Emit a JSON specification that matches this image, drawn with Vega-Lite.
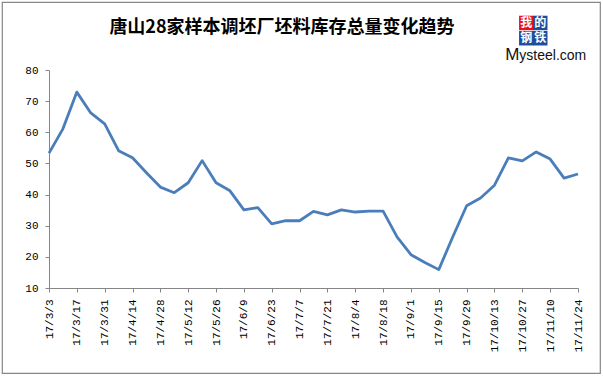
{
  "$schema": "https://vega.github.io/schema/vega-lite/v6.json",
  "width": 598,
  "height": 371,
  "autosize": {"type": "none"},
  "padding": {"left": 2, "top": 2, "right": 3, "bottom": 3},
  "background": "white",
  "config": {
    "view": {"stroke": "#878787", "strokeWidth": 1.2},
    "axis": {"grid": false, "domainColor": "#868686", "tickColor": "#868686", "labelColor": "#000000", "labelFont": "Liberation Mono", "labelFontSize": 11, "tickSize": 4}
  },
  "title": {
    "text": "唐山28家样本调坯厂坯料库存总量变化趋势",
    "font": "Noto Sans CJK SC",
    "fontSize": 18,
    "fontWeight": "bold",
    "color": "#000000",
    "anchor": "middle",
    "frame": "group",
    "baseline": "middle",
    "offset": -44,
    "dx": -19
  },
  "layer": [
    {
      "data": {"values": [
        {"date": "17/3/3", "stock": 53.3},
        {"date": "17/3/10", "stock": 61.1},
        {"date": "17/3/17", "stock": 72.9},
        {"date": "17/3/24", "stock": 66.2},
        {"date": "17/3/31", "stock": 62.7},
        {"date": "17/4/7", "stock": 54.1},
        {"date": "17/4/14", "stock": 51.8},
        {"date": "17/4/21", "stock": 47.0},
        {"date": "17/4/28", "stock": 42.4},
        {"date": "17/5/5", "stock": 40.6},
        {"date": "17/5/12", "stock": 43.8},
        {"date": "17/5/19", "stock": 50.9},
        {"date": "17/5/26", "stock": 43.8},
        {"date": "17/6/2", "stock": 41.2},
        {"date": "17/6/9", "stock": 35.1},
        {"date": "17/6/16", "stock": 35.8},
        {"date": "17/6/23", "stock": 30.6},
        {"date": "17/6/30", "stock": 31.6},
        {"date": "17/7/7", "stock": 31.6},
        {"date": "17/7/14", "stock": 34.6},
        {"date": "17/7/21", "stock": 33.5},
        {"date": "17/7/28", "stock": 35.1},
        {"date": "17/8/4", "stock": 34.4},
        {"date": "17/8/11", "stock": 34.7},
        {"date": "17/8/18", "stock": 34.7},
        {"date": "17/8/25", "stock": 26.4},
        {"date": "17/9/1", "stock": 20.7},
        {"date": "17/9/8", "stock": 18.2},
        {"date": "17/9/15", "stock": 15.9},
        {"date": "17/9/22", "stock": 26.4},
        {"date": "17/9/29", "stock": 36.4},
        {"date": "17/10/6", "stock": 38.9},
        {"date": "17/10/13", "stock": 43.0},
        {"date": "17/10/20", "stock": 51.8},
        {"date": "17/10/27", "stock": 50.8},
        {"date": "17/11/3", "stock": 53.7},
        {"date": "17/11/10", "stock": 51.4},
        {"date": "17/11/17", "stock": 45.3},
        {"date": "17/11/24", "stock": 46.6}
      ]},
      "mark": {"type": "line", "color": "#4A7EBB", "strokeWidth": 2.8, "strokeJoin": "round"},
      "encoding": {
        "x": {
          "field": "date", "type": "ordinal",
          "scale": {"type": "point", "padding": 0, "range": [47, 576],
            "domain": ["17/3/3","17/3/10","17/3/17","17/3/24","17/3/31","17/4/7","17/4/14","17/4/21","17/4/28","17/5/5","17/5/12","17/5/19","17/5/26","17/6/2","17/6/9","17/6/16","17/6/23","17/6/30","17/7/7","17/7/14","17/7/21","17/7/28","17/8/4","17/8/11","17/8/18","17/8/25","17/9/1","17/9/8","17/9/15","17/9/22","17/9/29","17/10/6","17/10/13","17/10/20","17/10/27","17/11/3","17/11/10","17/11/17","17/11/24"]},
          "axis": {
            "title": null, "offset": -85, "labelAngle": 270, "labelAlign": "right", "labelBaseline": "middle", "labelPadding": 7,
            "values": ["17/3/3","17/3/17","17/3/31","17/4/14","17/4/28","17/5/12","17/5/26","17/6/9","17/6/23","17/7/7","17/7/21","17/8/4","17/8/18","17/9/1","17/9/15","17/9/29","17/10/13","17/10/27","17/11/10","17/11/24"]
          }
        },
        "y": {
          "field": "stock", "type": "quantitative",
          "scale": {"domain": [10, 80], "range": [286, 68], "nice": false, "zero": false},
          "axis": {"title": null, "offset": -47, "values": [10,20,30,40,50,60,70,80], "labelPadding": 7}
        }
      }
    },
    {
      "data": {"values": [
        {"date": "17/10/27", "stock": 95.1, "part": "我"},
        {"date": "17/11/3", "stock": 95.1, "part": "的"},
        {"date": "17/10/27", "stock": 90.2, "part": "钢"},
        {"date": "17/11/3", "stock": 90.2, "part": "铁"}
      ]},
      "mark": {"type": "point", "shape": "square", "filled": true, "size": 210, "opacity": 1, "xOffset": 4},
      "encoding": {
        "x": {"field": "date", "type": "ordinal"},
        "y": {"field": "stock", "type": "quantitative"},
        "color": {"field": "part", "type": "nominal", "scale": {"domain": ["我","的","钢","铁"], "range": ["#E8101E","#1E4D9B","#1E4D9B","#1E4D9B"]}, "legend": null}
      }
    },
    {
      "data": {"values": [
        {"date": "17/10/27", "stock": 95.1, "part": "我"},
        {"date": "17/11/3", "stock": 95.1, "part": "的"},
        {"date": "17/10/27", "stock": 90.2, "part": "钢"},
        {"date": "17/11/3", "stock": 90.2, "part": "铁"}
      ]},
      "mark": {"type": "text", "font": "Noto Sans CJK SC", "fontSize": 12, "fontWeight": "bold", "color": "white", "dx": 4, "baseline": "middle", "align": "center"},
      "encoding": {
        "x": {"field": "date", "type": "ordinal"},
        "y": {"field": "stock", "type": "quantitative"},
        "text": {"field": "part"}
      }
    },
    {
      "data": {"values": [{"date": "17/10/27", "stock": 83.2, "word": "M"}]},
      "mark": {"type": "text", "font": "Liberation Sans", "fontSize": 17, "color": "#111111", "dx": -17, "align": "left", "baseline": "alphabetic"},
      "encoding": {
        "x": {"field": "date", "type": "ordinal"},
        "y": {"field": "stock", "type": "quantitative"},
        "text": {"field": "word"}
      }
    },
    {
      "data": {"values": [{"date": "17/10/27", "stock": 83.2, "word": "ysteel.com"}]},
      "mark": {"type": "text", "font": "Liberation Sans", "fontSize": 14, "color": "#111111", "dx": -3, "align": "left", "baseline": "alphabetic"},
      "encoding": {
        "x": {"field": "date", "type": "ordinal"},
        "y": {"field": "stock", "type": "quantitative"},
        "text": {"field": "word"}
      }
    }
  ]
}
